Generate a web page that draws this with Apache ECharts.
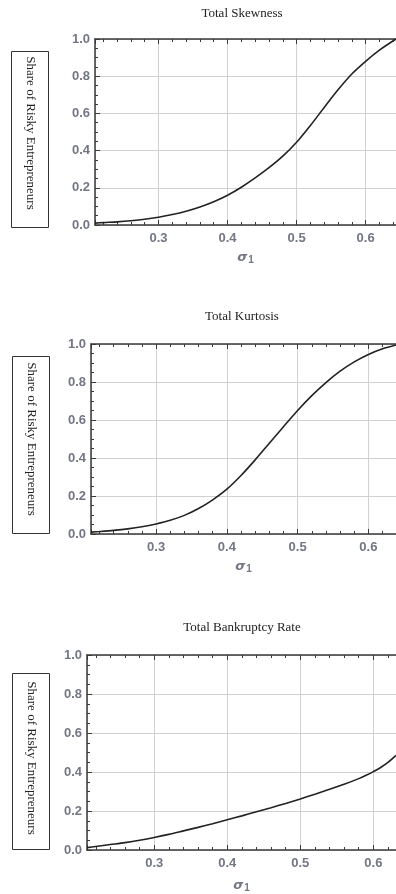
<!DOCTYPE html>
<html>
<head>
<meta charset="utf-8">
<script src="https://cdn.jsdelivr.net/npm/echarts@6/dist/echarts.min.js"></script>
<style>
  html, body { margin: 0; padding: 0; background: #fff; }
  #chart { width: 396px; height: 894px; }
</style>
</head>
<body>
<div id="chart"></div>
<script>
// values
var titles = ['Total Skewness', 'Total Kurtosis', 'Total Bankruptcy Rate'];
var yTitle = 'Share of Risky Entrepreneurs';

var sigmaSkew = [0.208, 0.22, 0.24, 0.26, 0.28, 0.30, 0.32, 0.34, 0.36, 0.38, 0.40, 0.42, 0.44, 0.46, 0.48, 0.50, 0.52, 0.54, 0.56, 0.58, 0.60, 0.62, 0.644];
var shareSkew = [0.010, 0.013, 0.017, 0.023, 0.031, 0.042, 0.056, 0.074, 0.097, 0.125, 0.160, 0.203, 0.253, 0.308, 0.370, 0.445, 0.535, 0.632, 0.727, 0.812, 0.880, 0.940, 1.000];

var sigmaKurt = [0.208, 0.22, 0.24, 0.26, 0.28, 0.30, 0.32, 0.34, 0.36, 0.38, 0.40, 0.42, 0.44, 0.46, 0.48, 0.50, 0.52, 0.54, 0.56, 0.58, 0.60, 0.62, 0.639];
var shareKurt = [0.010, 0.013, 0.019, 0.027, 0.038, 0.053, 0.072, 0.098, 0.134, 0.180, 0.236, 0.308, 0.390, 0.478, 0.565, 0.650, 0.728, 0.797, 0.857, 0.906, 0.945, 0.975, 0.995];

var sigmaBank = [0.208, 0.22, 0.24, 0.26, 0.28, 0.30, 0.32, 0.34, 0.36, 0.38, 0.40, 0.42, 0.44, 0.46, 0.48, 0.50, 0.52, 0.54, 0.56, 0.58, 0.59, 0.60, 0.61, 0.62, 0.631];
var shareBank = [0.012, 0.018, 0.028, 0.038, 0.050, 0.064, 0.080, 0.098, 0.116, 0.135, 0.155, 0.175, 0.196, 0.217, 0.239, 0.262, 0.286, 0.311, 0.337, 0.366, 0.383, 0.402, 0.423, 0.449, 0.485];

var xMax = [0.644, 0.639, 0.631];

function zip(xs, ys) {
  var out = [];
  for (var i = 0; i < xs.length; i++) out.push([xs[i], ys[i]]);
  return out;
}

var labelColor = '#737784';
var frameColor = '#3a3a3a';

// plot areas
var grids = [
  { left: 95, top: 39, width: 301, height: 186 },
  { left: 91, top: 344, width: 305, height: 190 },
  { left: 87, top: 655, width: 309, height: 196 }
];
var titleTops = [2, 305, 616];
var nameGaps = [26, 26, 29];
var boxes = [
  { x: 11, y: 51, w: 37, h: 176, ty: 133 },
  { x: 12, y: 356, w: 37, h: 177, ty: 439 },
  { x: 12, y: 673, w: 37, h: 176, ty: 758 }
];

var xAxes = [], yAxes = [], series = [], titleList = [], graphics = [];
var curves = [zip(sigmaSkew, shareSkew), zip(sigmaKurt, shareKurt), zip(sigmaBank, shareBank)];

for (var i = 0; i < 3; i++) {
  titleList.push({
    text: titles[i],
    left: 237,
    top: titleTops[i],
    textAlign: 'center',
    textStyle: { fontFamily: 'Liberation Serif', fontWeight: 'normal', fontSize: 13, color: '#222' }
  });

  xAxes.push({
    type: 'value', gridIndex: i, position: 'bottom',
    min: 0.208, max: xMax[i], splitNumber: 4,
    name: '{a|σ}{b|1}', nameLocation: 'middle', nameGap: nameGaps[i],
    nameTextStyle: {
      rich: {
        a: { fontFamily: 'DejaVu Sans', fontStyle: 'italic', fontWeight: 'bold', fontSize: 13, lineHeight: 14, verticalAlign: 'top', color: labelColor },
        b: { fontFamily: 'Liberation Sans', fontWeight: 'bold', fontSize: 10, lineHeight: 14, verticalAlign: 'bottom', padding: [4, 0, 0, 1], color: labelColor }
      }
    },
    axisLine: { show: true, lineStyle: { color: frameColor, width: 1.5 } },
    axisTick: { show: true, inside: true, length: 5, lineStyle: { color: frameColor } },
    minorTick: { show: true, splitNumber: 5, length: 3, lineStyle: { color: frameColor } },
    axisLabel: {
      margin: 7, showMinLabel: false, showMaxLabel: false,
      fontFamily: 'Liberation Sans', fontWeight: 'bold', fontSize: 13, color: labelColor,
      formatter: function (v) { return v.toFixed(1); }
    },
    splitLine: { show: true, lineStyle: { color: '#d0d0d0', width: 1 } }
  });

  yAxes.push({
    type: 'value', gridIndex: i,
    min: 0, max: 1, interval: 0.2,
    axisLine: { show: true, lineStyle: { color: frameColor, width: 1.5 } },
    axisTick: { show: true, inside: true, length: 5, lineStyle: { color: frameColor } },
    minorTick: { show: true, splitNumber: 4, length: 3, lineStyle: { color: frameColor } },
    axisLabel: {
      margin: 5,
      fontFamily: 'Liberation Sans', fontWeight: 'bold', fontSize: 13, color: labelColor,
      formatter: function (v) { return v.toFixed(1); }
    },
    splitLine: { show: true, lineStyle: { color: '#d0d0d0', width: 1 } }
  });

  series.push({
    type: 'line', xAxisIndex: i, yAxisIndex: i,
    data: curves[i], smooth: 0.3, showSymbol: false, silent: true,
    lineStyle: { color: '#222', width: 1.6 }
  });

  var b = boxes[i];
  graphics.push({
    type: 'rect',
    shape: { x: b.x + 0.5, y: b.y + 0.5, width: b.w, height: b.h },
    style: { fill: '#fff', stroke: '#333', lineWidth: 1 }
  });
  graphics.push({
    type: 'text',
    x: b.x + b.w / 2 + 1, y: b.ty,
    rotation: -Math.PI / 2,
    style: {
      text: yTitle, fontFamily: 'Liberation Serif', fontSize: 13, fill: '#222',
      align: 'center', verticalAlign: 'middle'
    }
  });
}

// frame ticks along the top edge
for (var j = 0; j < 3; j++) {
  xAxes.push({
    type: 'value', gridIndex: j, position: 'top',
    min: 0.208, max: xMax[j], splitNumber: 4,
    axisLine: { show: true, lineStyle: { color: frameColor, width: 1.5 } },
    axisTick: { show: true, inside: true, length: 5, lineStyle: { color: frameColor } },
    minorTick: { show: true, splitNumber: 5, length: 3, lineStyle: { color: frameColor } },
    axisLabel: { show: false },
    splitLine: { show: false }
  });
}

var chart = echarts.init(document.getElementById('chart'), null, { renderer: 'canvas' });
chart.setOption({
  backgroundColor: '#fff',
  animation: false,
  title: titleList,
  grid: grids,
  xAxis: xAxes,
  yAxis: yAxes,
  series: series,
  graphic: graphics
});
</script>
</body>
</html>
